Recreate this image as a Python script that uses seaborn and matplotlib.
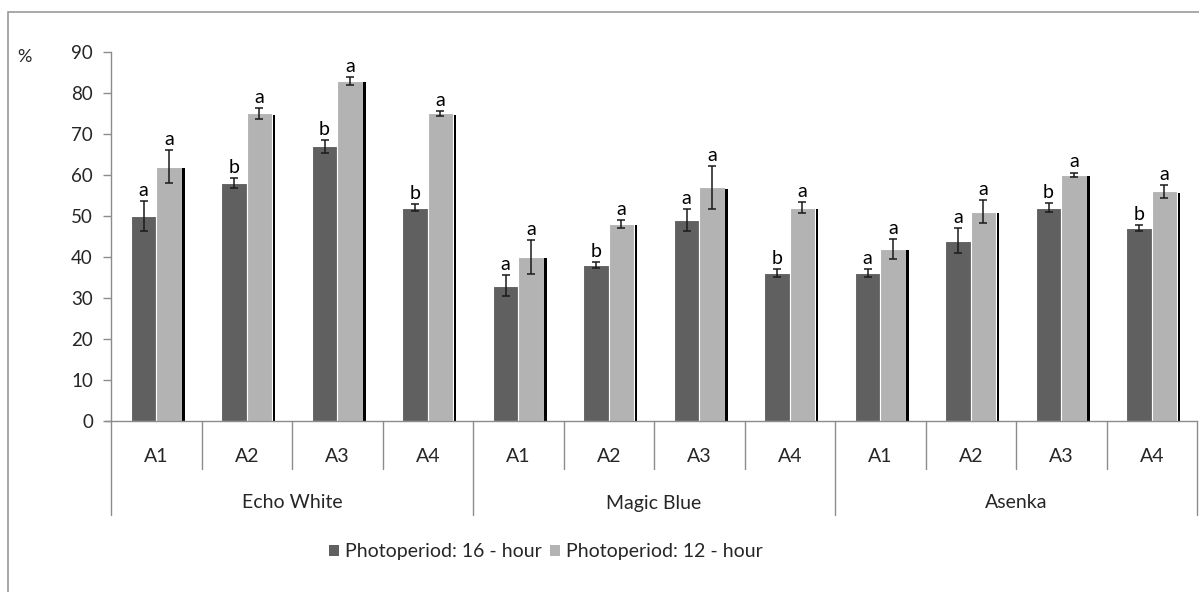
import matplotlib
matplotlib.use("Agg")
import matplotlib.pyplot as plt
import matplotlib.transforms as mtransforms
from matplotlib.patches import Rectangle, Patch
from matplotlib.lines import Line2D
import pandas as pd
import seaborn as sns

# ---- data -------------------------------------------------------------
cultivars = ["Echo White", "Magic Blue", "Asenka"]
treatments = ["A1", "A2", "A3", "A4"]
series = ["Photoperiod: 16 - hour", "Photoperiod: 12 - hour"]

long_day = [50, 58, 67, 52, 33, 38, 49, 36, 36, 44, 52, 47]
long_day_err = [3.6, 1.2, 1.6, 0.9, 2.5, 0.8, 2.7, 1.0, 1.0, 3.0, 1.1, 0.7]
long_day_letters = ["a", "b", "b", "b", "a", "b", "a", "b", "a", "a", "b", "b"]

short_day = [62, 75, 83, 75, 40, 48, 57, 52, 42, 51, 60, 56]
short_day_err = [4.0, 1.3, 1.0, 0.5, 4.2, 1.0, 5.2, 1.3, 2.4, 2.8, 0.6, 1.6]
short_day_letters = ["a"] * 12

y_ticks = [0, 10, 20, 30, 40, 50, 60, 70, 80, 90]

# ---- tidy table --------------------------------------------------------
cells = [f"{c}|{t}" for c in cultivars for t in treatments]
rows = []
for s, vals in zip(series, [long_day, short_day]):
    for cell, v in zip(cells, vals):
        rows.append({"cell": cell, "series": s, "value": v})
df = pd.DataFrame(rows)

DARK = "#606060"
LIGHT = "#b3b3b3"
AXIS_GREY = "#8c8c8c"
FS = 14

sns.set_theme(style="white")
plt.rcParams["font.family"] = ["Lato", "DejaVu Sans"]

W, H = 1199, 592
fig = plt.figure(figsize=(W / 100, H / 100), dpi=100)
ax = fig.add_axes([111 / W, (H - 421) / H, 1086 / W, 369 / H])

sns.barplot(data=df, x="cell", y="value", hue="series", order=cells,
            hue_order=series, palette=[DARK, LIGHT], width=0.56,
            errorbar=None, saturation=1, edgecolor="white", linewidth=0.8,
            legend=False, ax=ax)

ax.set_xlim(-0.5, len(cells) - 0.5)
ax.set_ylim(0, 90)
ax.set_yticks(y_ticks)
ax.set_xlabel("")
ax.set_ylabel("")
ax.tick_params(axis="x", length=0, labelbottom=False)
ax.tick_params(axis="y", direction="out", length=6, width=1, color=AXIS_GREY,
               labelsize=13.5, pad=7, left=True)
for side in ("top", "right"):
    ax.spines[side].set_visible(False)
for side in ("left", "bottom"):
    ax.spines[side].set_color(AXIS_GREY)
    ax.spines[side].set_linewidth(1)

px = 1 / 90.5  # one pixel in category units

# error bars, significance letters and the drop shadow behind the light bars
for k, (errs, letters) in enumerate([(long_day_err, long_day_letters),
                                      (short_day_err, short_day_letters)]):
    for p, e, lab in zip(ax.containers[k], errs, letters):
        xc = p.get_x() + p.get_width() / 2
        h = p.get_height()
        ax.errorbar(xc, h, yerr=e, fmt="none", ecolor="#1a1a1a",
                    elinewidth=1.1, capsize=3, capthick=1.1, zorder=4)
        ax.annotate(lab, (xc, h + e), xytext=(0, 1.5), textcoords="offset points",
                    ha="center", va="bottom", fontsize=FS, color="black")
        if k == 1:
            ax.add_patch(Rectangle((p.get_x() + p.get_width() + 0.6 * px, 0),
                                   2.6 * px, h - 0.3, facecolor="black",
                                   edgecolor="none", zorder=1.5))

# two-level category axis below the plot
trans = mtransforms.blended_transform_factory(ax.transData, ax.transAxes)
inner_drop = -48 / 369
outer_drop = -94 / 369
for i in range(len(cells) + 1):
    x = i - 0.5
    low = outer_drop if i % len(treatments) == 0 else inner_drop
    ax.add_line(Line2D([x, x], [0, low], transform=trans, color=AXIS_GREY,
                       lw=1, clip_on=False))
ax.add_line(Line2D([-0.5 - 6 * px, -0.5], [0, 0], transform=trans,
                   color=AXIS_GREY, lw=1, clip_on=False))

for i, cell in enumerate(cells):
    ax.text(i, -36 / 369, cell.split("|")[1], transform=trans, ha="center",
            va="center", fontsize=FS)
for g, name in enumerate(cultivars):
    xc = g * len(treatments) + (len(treatments) - 1) / 2
    ax.text(xc, -82 / 369, name, transform=trans, ha="center", va="center",
            fontsize=FS)

fig.text(17 / W, 1 - 57 / H, "%", ha="left", va="center", fontsize=13)

handles = [Patch(facecolor=DARK, edgecolor="none"),
           Patch(facecolor=LIGHT, edgecolor="none")]
fig.legend(handles, series, loc="center", bbox_to_anchor=(546 / W, 1 - 552 / H),
           ncol=2, frameon=False, fontsize=FS, handlelength=0.5,
           handleheight=0.5, handletextpad=0.35, columnspacing=0.4)

# outer chart frame
fig.add_artist(Rectangle((7.5 / W, -0.2), 2, (H - 12) / H + 0.2,
                         transform=fig.transFigure, fill=False,
                         edgecolor="#9a9a9a", lw=1.2))

fig.savefig("out.png", dpi=100)
